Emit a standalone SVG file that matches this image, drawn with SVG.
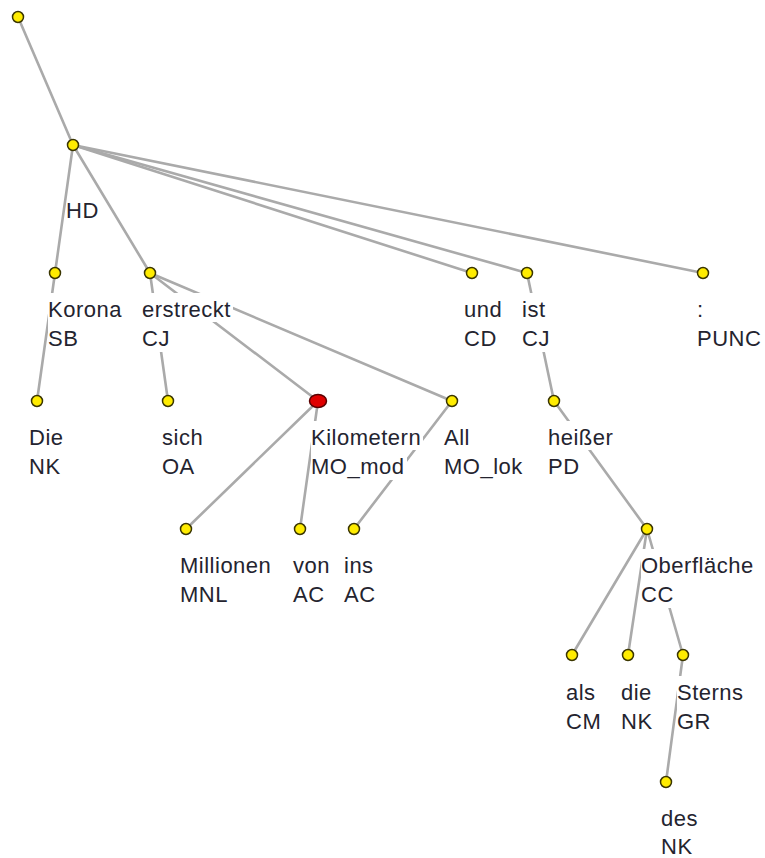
<svg xmlns="http://www.w3.org/2000/svg" width="765" height="858" viewBox="0 0 765 858">
<style>
.e{stroke:#aaaaaa;stroke-width:2.6;fill:none;stroke-linecap:round}
.n{fill:#ffec00;stroke:#3a3500;stroke-width:1.5}
.r{fill:#e00000;stroke:#5a0000;stroke-width:1.5}
.b{fill:#ffffff;stroke:none}
text{font-family:"Liberation Sans",Arial,sans-serif;font-size:22px;fill:#24242f;letter-spacing:0.5px}
</style>
<rect width="765" height="858" fill="#ffffff"/>
<g id="connectors">
<line class="e" x1="18" y1="17" x2="73" y2="145"/>
<line class="e" x1="73" y1="145" x2="55" y2="273"/>
<line class="e" x1="73" y1="145" x2="150" y2="273"/>
<line class="e" x1="73" y1="145" x2="472" y2="273"/>
<line class="e" x1="73" y1="145" x2="527" y2="273"/>
<line class="e" x1="73" y1="145" x2="703" y2="273"/>
<line class="e" x1="55" y1="273" x2="37" y2="401"/>
<line class="e" x1="150" y1="273" x2="168" y2="401"/>
<line class="e" x1="150" y1="273" x2="318" y2="401"/>
<line class="e" x1="150" y1="273" x2="452" y2="401"/>
<line class="e" x1="318" y1="401" x2="186" y2="529"/>
<line class="e" x1="318" y1="401" x2="300" y2="529"/>
<line class="e" x1="452" y1="401" x2="354" y2="529"/>
<line class="e" x1="527" y1="273" x2="554" y2="401"/>
<line class="e" x1="554" y1="401" x2="647" y2="529"/>
<line class="e" x1="647" y1="529" x2="572" y2="655"/>
<line class="e" x1="647" y1="529" x2="628" y2="655"/>
<line class="e" x1="647" y1="529" x2="683" y2="655"/>
<line class="e" x1="683" y1="655" x2="666" y2="782"/>
</g>
<g id="n-root"><circle class="n" cx="18" cy="17" r="5.5"/></g>
<g id="n-HD">
<rect class="b" x="68" y="196" width="33" height="28"/>
<text x="66" y="218">HD</text>
<circle class="n" cx="73" cy="145" r="5.5"/>
</g>
<g id="n-Korona">
<rect class="b" x="48" y="293" width="76" height="29"/>
<rect class="b" x="48" y="322" width="32" height="30"/>
<text x="48" y="317">Korona</text><text x="48" y="346">SB</text>
<circle class="n" cx="55" cy="273" r="5.5"/>
</g>
<g id="n-erstreckt">
<rect class="b" x="142" y="293" width="91" height="29"/>
<rect class="b" x="142" y="322" width="30" height="30"/>
<text x="142" y="317">erstreckt</text><text x="142" y="346">CJ</text>
<circle class="n" cx="150" cy="273" r="5.5"/>
</g>
<g id="n-und">
<rect class="b" x="464" y="293" width="40" height="29"/>
<rect class="b" x="464" y="322" width="35" height="30"/>
<text x="464" y="317">und</text><text x="464" y="346">CD</text>
<circle class="n" cx="472" cy="273" r="5.5"/>
</g>
<g id="n-ist">
<rect class="b" x="522" y="293" width="26" height="29"/>
<rect class="b" x="522" y="322" width="30" height="30"/>
<text x="522" y="317">ist</text><text x="522" y="346">CJ</text>
<circle class="n" cx="527" cy="273" r="5.5"/>
</g>
<g id="n-PUNC">
<rect class="b" x="697" y="293" width="9" height="29"/>
<rect class="b" x="697" y="322" width="66" height="30"/>
<text x="697" y="317">:</text><text x="697" y="346">PUNC</text>
<circle class="n" cx="703" cy="273" r="5.5"/>
</g>
<g id="n-Die">
<rect class="b" x="29" y="421" width="37" height="29"/>
<rect class="b" x="29" y="450" width="34" height="30"/>
<text x="29" y="445">Die</text><text x="29" y="474">NK</text>
<circle class="n" cx="37" cy="401" r="5.5"/>
</g>
<g id="n-sich">
<rect class="b" x="162" y="421" width="43" height="29"/>
<rect class="b" x="162" y="450" width="35" height="30"/>
<text x="162" y="445">sich</text><text x="162" y="474">OA</text>
<circle class="n" cx="168" cy="401" r="5.5"/>
</g>
<g id="n-Kilometern">
<rect class="b" x="311" y="421" width="112" height="29"/>
<rect class="b" x="311" y="450" width="96" height="30"/>
<text x="311" y="445">Kilometern</text><text x="311" y="474">MO_mod</text>
<ellipse class="r" cx="318" cy="401" rx="8.5" ry="6.5"/>
</g>
<g id="n-All">
<rect class="b" x="444" y="421" width="28" height="29"/>
<rect class="b" x="444" y="450" width="81" height="30"/>
<text x="444" y="445">All</text><text x="444" y="474">MO_lok</text>
<circle class="n" cx="452" cy="401" r="5.5"/>
</g>
<g id="n-heisser">
<rect class="b" x="548" y="421" width="67" height="29"/>
<rect class="b" x="548" y="450" width="34" height="30"/>
<text x="548" y="445">heißer</text><text x="548" y="474">PD</text>
<circle class="n" cx="554" cy="401" r="5.5"/>
</g>
<g id="n-Millionen">
<rect class="b" x="180" y="549" width="93" height="29"/>
<rect class="b" x="180" y="578" width="50" height="30"/>
<text x="180" y="573">Millionen</text><text x="180" y="602">MNL</text>
<circle class="n" cx="186" cy="529" r="5.5"/>
</g>
<g id="n-von">
<rect class="b" x="293" y="549" width="39" height="29"/>
<rect class="b" x="293" y="578" width="34" height="30"/>
<text x="293" y="573">von</text><text x="293" y="602">AC</text>
<circle class="n" cx="300" cy="529" r="5.5"/>
</g>
<g id="n-ins">
<rect class="b" x="344" y="549" width="32" height="29"/>
<rect class="b" x="344" y="578" width="34" height="30"/>
<text x="344" y="573">ins</text><text x="344" y="602">AC</text>
<circle class="n" cx="354" cy="529" r="5.5"/>
</g>
<g id="n-Oberflaeche">
<rect class="b" x="641" y="549" width="115" height="29"/>
<rect class="b" x="641" y="578" width="35" height="30"/>
<text x="641" y="573">Oberfläche</text><text x="641" y="602">CC</text>
<circle class="n" cx="647" cy="529" r="5.5"/>
</g>
<g id="n-als">
<rect class="b" x="566" y="676" width="32" height="29"/>
<rect class="b" x="566" y="705" width="37" height="30"/>
<text x="566" y="700">als</text><text x="566" y="729">CM</text>
<circle class="n" cx="572" cy="655" r="5.5"/>
</g>
<g id="n-die">
<rect class="b" x="621" y="676" width="33" height="29"/>
<rect class="b" x="621" y="705" width="34" height="30"/>
<text x="621" y="700">die</text><text x="621" y="729">NK</text>
<circle class="n" cx="628" cy="655" r="5.5"/>
</g>
<g id="n-Sterns">
<rect class="b" x="677" y="676" width="69" height="29"/>
<rect class="b" x="677" y="705" width="36" height="30"/>
<text x="677" y="700">Sterns</text><text x="677" y="729">GR</text>
<circle class="n" cx="683" cy="655" r="5.5"/>
</g>
<g id="n-des">
<rect class="b" x="661" y="802" width="39" height="29"/>
<rect class="b" x="661" y="831" width="34" height="27"/>
<text x="661" y="826">des</text><text x="661" y="854">NK</text>
<circle class="n" cx="666" cy="782" r="5.5"/>
</g>
</svg>
